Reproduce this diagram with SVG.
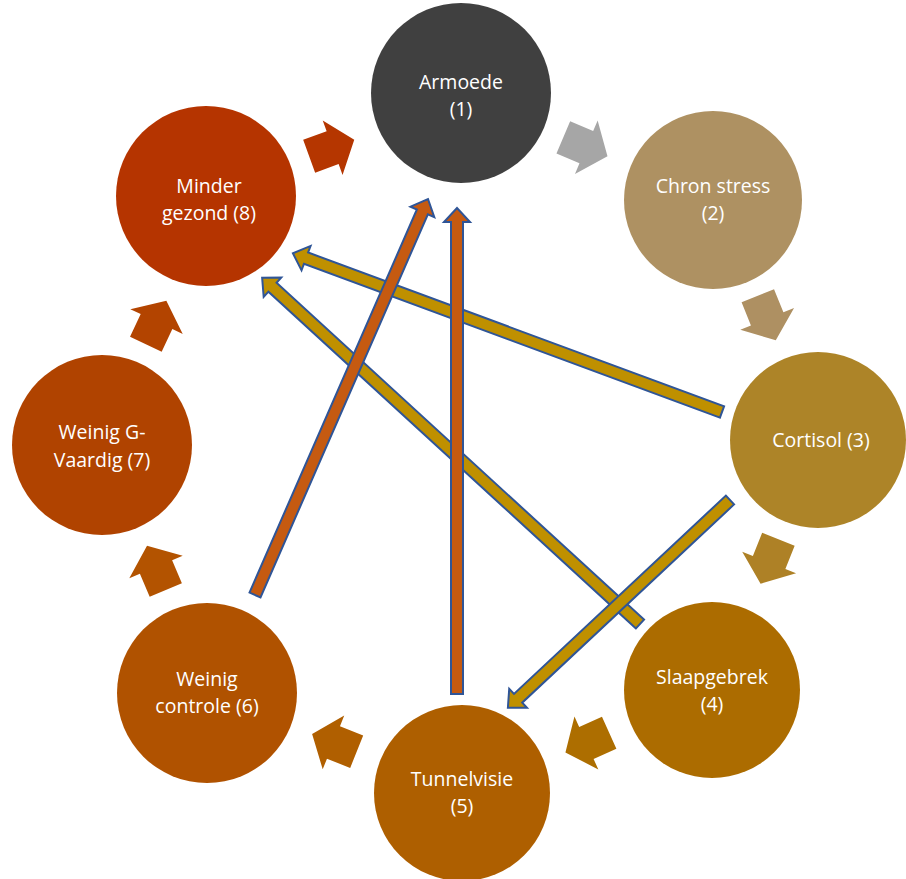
<svg xmlns="http://www.w3.org/2000/svg" width="906" height="879" viewBox="0 0 906 879">
<style>
text{font-family:"Open Sans","Noto Sans","Liberation Sans",sans-serif;font-size:19.5px;fill:#ffffff;text-anchor:middle}
.ln{stroke:#2f5597;stroke-width:2;stroke-linejoin:miter}
.or{fill:#c55a11}
.gd{fill:#bf9000}
</style>
<defs>
<polygon id="blk" points="-24,-17.5 1,-17.5 1,-29 24,0 1,29 1,17.5 -24,17.5"/>
</defs>
<rect width="906" height="879" fill="#ffffff"/>
<g id="n1"><circle cx="461" cy="93" r="90" fill="#404040"/><text x="461" y="89">Armoede</text><text x="461" y="116">(1)</text></g>
<g id="n2"><circle cx="713" cy="200" r="89" fill="#ae9162"/><text x="713" y="193">Chron stress</text><text x="713" y="220">(2)</text></g>
<g id="n3"><circle cx="818" cy="440" r="88" fill="#ad8428"/><text x="821" y="447">Cortisol (3)</text></g>
<g id="n4"><circle cx="712" cy="690" r="88" fill="#ac6c00"/><text x="712" y="684">Slaapgebrek</text><text x="712" y="711">(4)</text></g>
<g id="n5"><circle cx="462" cy="793" r="88" fill="#ae5f00"/><text x="462" y="786">Tunnelvisie</text><text x="462" y="813">(5)</text></g>
<g id="n6"><circle cx="207" cy="693" r="90" fill="#b05200"/><text x="207" y="686">Weinig</text><text x="207" y="713">controle (6)</text></g>
<g id="n7"><circle cx="102" cy="445" r="90" fill="#b04300"/><text x="102" y="439">Weinig G-</text><text x="102" y="467">Vaardig (7)</text></g>
<g id="n8"><circle cx="206" cy="196" r="90" fill="#b53400"/><text x="209" y="193">Minder</text><text x="209" y="220">gezond (8)</text></g>
<g id="connectors">
<use href="#blk" fill="#a6a6a6" transform="translate(585.4,146.8) rotate(23)"/>
<use href="#blk" fill="#ae9062" transform="translate(766.8,318) rotate(68)"/>
<use href="#blk" fill="#ae8126" transform="translate(769.5,561.5) rotate(111.8)"/>
<use href="#blk" fill="#ad6e00" transform="translate(587.3,742.6) rotate(155.7)"/>
<use href="#blk" fill="#b05f00" transform="translate(334.4,742.8) rotate(201.8)"/>
<use href="#blk" fill="#b35300" transform="translate(156.4,567.9) rotate(247)"/>
<use href="#blk" fill="#b34400" transform="translate(156.1,322.5) rotate(-64.7)"/>
<use href="#blk" fill="#b53600" transform="translate(331.7,148) rotate(-20)"/>
<path class="ln gd" transform="translate(722,412) rotate(200.3)" d="M0,-6 L443.5,-6 L443.5,-13 L457.5,0 L443.5,13 L443.5,6 L0,6 Z"/>
<path class="ln gd" transform="translate(640,624) rotate(222.5)" d="M0,-6 L498.5,-6 L498.5,-13 L512.5,0 L498.5,13 L498.5,6 L0,6 Z"/>
<path class="ln gd" transform="translate(730,500) rotate(136.9)" d="M0,-6 L290.2,-6 L290.2,-13 L304.2,0 L290.2,13 L290.2,6 L0,6 Z"/>
<path class="ln or" transform="translate(255,595) rotate(-66.4)" d="M0,-6 L418.1,-6 L418.1,-13 L432.1,0 L418.1,13 L418.1,6 L0,6 Z"/>
<path class="ln or" transform="translate(457,694) rotate(-90)" d="M0,-6 L472,-6 L472,-13 L486,0 L472,13 L472,6 L0,6 Z"/>
</g>
</svg>
